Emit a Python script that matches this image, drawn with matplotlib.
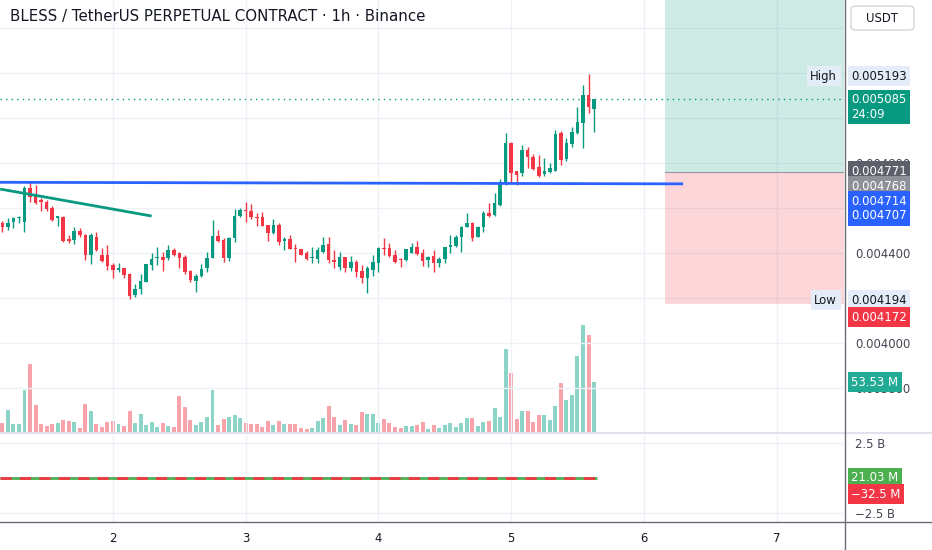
import matplotlib.pyplot as plt
import matplotlib.transforms as mtransforms
from matplotlib.patches import Rectangle, FancyBboxPatch
from matplotlib.lines import Line2D
import numpy as np

plt.rcParams['font.family'] = ['DejaVu Sans']

# hourly candles, first one on day 1 at 04:00 (x axis in hours)
first_hour = 28
open_ = [0.004533, 0.004516, 0.004538, 0.004556, 0.004538, 0.004689, 0.004653, 0.004636, 0.004627, 0.004600,
         0.004556, 0.004560, 0.004462, 0.004458, 0.004498, 0.004480, 0.004391, 0.004471, 0.004391, 0.004391,
         0.004347, 0.004324, 0.004333, 0.004307, 0.004213, 0.004240, 0.004271, 0.004347, 0.004378, 0.004382,
         0.004378, 0.004413, 0.004400, 0.004382, 0.004320, 0.004276, 0.004298, 0.004333, 0.004378, 0.004476,
         0.004458, 0.004378, 0.004467, 0.004564, 0.004591, 0.004587, 0.004560, 0.004560, 0.004524, 0.004489,
         0.004524, 0.004453, 0.004462, 0.004422, 0.004418, 0.004400, 0.004378, 0.004373, 0.004404, 0.004440,
         0.004369, 0.004338, 0.004382, 0.004333, 0.004360, 0.004320, 0.004289, 0.004324, 0.004356, 0.004422,
         0.004422, 0.004391, 0.004373, 0.004369, 0.004400, 0.004427, 0.004400, 0.004369, 0.004387, 0.004356,
         0.004373, 0.004427, 0.004431, 0.004471, 0.004516, 0.004533, 0.004471, 0.004516, 0.004578, 0.004569,
         0.004613, 0.004711, 0.004889, 0.004764, 0.004756, 0.004858, 0.004827, 0.004782, 0.004751, 0.004760,
         0.004764, 0.004933, 0.004818, 0.004884, 0.004933, 0.004978, 0.005102, 0.005040]
high = [0.004542, 0.004556, 0.004560, 0.004564, 0.004698, 0.004716, 0.004702, 0.004644, 0.004636, 0.004609,
        0.004564, 0.004564, 0.004480, 0.004516, 0.004511, 0.004484, 0.004489, 0.004493, 0.004422, 0.004436,
        0.004356, 0.004356, 0.004333, 0.004311, 0.004262, 0.004307, 0.004351, 0.004400, 0.004427, 0.004404,
        0.004436, 0.004422, 0.004404, 0.004391, 0.004324, 0.004307, 0.004351, 0.004404, 0.004547, 0.004502,
        0.004467, 0.004471, 0.004596, 0.004600, 0.004627, 0.004618, 0.004578, 0.004582, 0.004524, 0.004551,
        0.004533, 0.004471, 0.004480, 0.004440, 0.004418, 0.004409, 0.004427, 0.004427, 0.004471, 0.004471,
        0.004413, 0.004404, 0.004382, 0.004387, 0.004369, 0.004347, 0.004342, 0.004391, 0.004427, 0.004467,
        0.004444, 0.004413, 0.004378, 0.004418, 0.004444, 0.004453, 0.004418, 0.004387, 0.004413, 0.004382,
        0.004427, 0.004480, 0.004480, 0.004520, 0.004578, 0.004538, 0.004520, 0.004587, 0.004622, 0.004667,
        0.004729, 0.004933, 0.004893, 0.004764, 0.004880, 0.004871, 0.004840, 0.004836, 0.004822, 0.004800,
        0.004947, 0.004942, 0.004911, 0.004960, 0.005049, 0.005147, 0.005193, 0.005085]
low = [0.004493, 0.004502, 0.004511, 0.004533, 0.004493, 0.004627, 0.004618, 0.004587, 0.004587, 0.004542,
       0.004520, 0.004449, 0.004444, 0.004440, 0.004471, 0.004369, 0.004351, 0.004409, 0.004360, 0.004324,
       0.004289, 0.004316, 0.004289, 0.004194, 0.004204, 0.004218, 0.004271, 0.004324, 0.004347, 0.004320,
       0.004369, 0.004387, 0.004333, 0.004307, 0.004271, 0.004227, 0.004293, 0.004316, 0.004378, 0.004449,
       0.004360, 0.004364, 0.004449, 0.004560, 0.004538, 0.004551, 0.004520, 0.004520, 0.004453, 0.004484,
       0.004436, 0.004413, 0.004418, 0.004360, 0.004391, 0.004369, 0.004356, 0.004356, 0.004400, 0.004356,
       0.004333, 0.004324, 0.004316, 0.004320, 0.004293, 0.004267, 0.004222, 0.004298, 0.004316, 0.004391,
       0.004382, 0.004356, 0.004338, 0.004364, 0.004400, 0.004391, 0.004342, 0.004338, 0.004316, 0.004338,
       0.004356, 0.004400, 0.004427, 0.004404, 0.004516, 0.004453, 0.004471, 0.004493, 0.004560, 0.004564,
       0.004609, 0.004702, 0.004711, 0.004702, 0.004742, 0.004778, 0.004769, 0.004738, 0.004742, 0.004756,
       0.004764, 0.004791, 0.004809, 0.004871, 0.004929, 0.004867, 0.005022, 0.004938]
close = [0.004516, 0.004533, 0.004556, 0.004560, 0.004689, 0.004649, 0.004622, 0.004627, 0.004596, 0.004547,
         0.004564, 0.004453, 0.004453, 0.004498, 0.004480, 0.004391, 0.004480, 0.004413, 0.004364, 0.004342,
         0.004324, 0.004333, 0.004302, 0.004209, 0.004240, 0.004276, 0.004351, 0.004373, 0.004382, 0.004369,
         0.004413, 0.004391, 0.004378, 0.004316, 0.004280, 0.004298, 0.004329, 0.004378, 0.004476, 0.004453,
         0.004378, 0.004467, 0.004564, 0.004591, 0.004587, 0.004560, 0.004556, 0.004520, 0.004489, 0.004524,
         0.004449, 0.004462, 0.004418, 0.004418, 0.004391, 0.004373, 0.004382, 0.004413, 0.004436, 0.004369,
         0.004360, 0.004382, 0.004333, 0.004360, 0.004316, 0.004289, 0.004333, 0.004360, 0.004422, 0.004418,
         0.004387, 0.004360, 0.004369, 0.004418, 0.004427, 0.004396, 0.004364, 0.004382, 0.004356, 0.004373,
         0.004427, 0.004436, 0.004471, 0.004516, 0.004533, 0.004467, 0.004516, 0.004578, 0.004564, 0.004622,
         0.004711, 0.004889, 0.004756, 0.004747, 0.004858, 0.004827, 0.004773, 0.004742, 0.004764, 0.004778,
         0.004929, 0.004813, 0.004889, 0.004938, 0.004982, 0.005102, 0.005049, 0.005085]
# volume in millions
volume = [10.5, 24.5, 9.5, 9.5, 44.8, 72.4, 29.4, 9.5, 7.3, 9.5,
          10.5, 14.0, 12.6, 11.5, 5.2, 30.4, 23.1, 9.5, 6.3, 11.5,
          12.6, 9.5, 7.3, 23.1, 10.5, 19.9, 8.4, 11.5, 6.3, 10.5,
          7.3, 6.3, 38.8, 27.3, 14.0, 8.4, 11.5, 16.8, 44.8, 8.4,
          14.7, 16.8, 18.9, 15.7, 10.5, 9.5, 9.5, 6.3, 12.6, 8.4,
          12.6, 9.5, 9.5, 9.5, 5.2, 4.2, 5.2, 12.6, 15.7, 28.3,
          16.8, 8.4, 13.6, 9.5, 8.4, 22.0, 19.9, 19.9, 10.5, 14.7,
          10.5, 6.3, 5.2, 7.3, 7.3, 8.4, 11.5, 4.2, 8.4, 5.2,
          8.4, 10.5, 6.3, 10.5, 15.7, 15.7, 7.3, 11.5, 12.6, 26.2,
          16.8, 87.8, 63.0, 14.7, 23.1, 23.1, 11.5, 18.9, 18.9, 13.6,
          28.3, 52.5, 34.6, 39.9, 80.5, 114.0, 102.5, 53.53]

# drawings
hline_pts = [(27.0, 0.004714), (151.1, 0.004707)]
trend_pts = [(27.6, 0.004684), (55.0, 0.004564)]
pos_left = 147.8
pos_entry = 0.004760
pos_stop = 0.004172
indicator_last = [21.03e6, -32.5e6]

price_ticks = [0.0038, 0.0040, 0.0042, 0.0044, 0.0046, 0.0048, 0.0050, 0.0052, 0.0054]
price_labels = ['0.003800', '0.004000', '', '0.004400', '', '0.004800', '', '', '']
day_ticks = [48, 72, 96, 120, 144, 168]
day_labels = ['2', '3', '4', '5', '6', '7']

UP, DOWN = '#089981', '#f23645'
VUP, VDOWN = '#8cd3c8', '#f7a3a9'
GRID = '#eef1f6'
TXT = '#131722'

W, H = 932, 550
def rect(x0, y0, x1, y1):
    return [x0 / W, 1 - y1 / H, (x1 - x0) / W, (y1 - y0) / H]

fig = plt.figure(figsize=(W / 100, H / 100), dpi=100)
fig.patch.set_facecolor('white')

ax = fig.add_axes(rect(0, 0, 844, 433))
axv = ax.twinx()
ax.set_zorder(axv.get_zorder() + 1)
ax.patch.set_visible(False)
axv.set_facecolor('white')

hours = first_hour + np.arange(len(close))
o = np.array(open_); c = np.array(close); hi = np.array(high); lo = np.array(low)
up = c >= o
cols = np.where(up, UP, DOWN)

# volume
axv.bar(hours, volume, width=0.72, color=np.where(up, VUP, VDOWN), zorder=2)
axv.set_ylim(0, 455)
axv.set_yticks([])
for s in axv.spines.values():
    s.set_visible(False)

# position tool
ax.add_patch(Rectangle((pos_left, pos_entry), 60, 0.002, facecolor=UP, alpha=0.2, lw=0, zorder=1))
ax.add_patch(Rectangle((pos_left, pos_stop), 60, pos_entry - pos_stop, facecolor=DOWN, alpha=0.2, lw=0, zorder=1))
ax.plot([pos_left, 200], [pos_entry, pos_entry], color='#9598a1', lw=0.8, zorder=1.5)

# candles
ax.vlines(hours, lo, hi, colors=cols, lw=1, zorder=3)
body = np.maximum(np.abs(c - o), 0.0000035)
ax.bar(hours, body, bottom=np.minimum(o, c), width=0.64, color=cols, zorder=4)

# lines
ax.plot(*zip(*hline_pts), color='#2962ff', lw=2, zorder=5, solid_capstyle='butt')
ax.plot(*zip(*trend_pts), color=UP, lw=2, zorder=5, solid_capstyle='butt')
ax.axhline(close[-1], color=UP, lw=1, ls=(0, (1, 3)), zorder=2)

ax.set_xlim(27.57, 180.2)
ax.set_ylim(0.0036, 0.005524)
ax.set_xticks(day_ticks)
ax.set_xticklabels([])
ax.tick_params(axis='x', length=0)
ax.set_yticks(price_ticks)
ax.yaxis.tick_right()
ax.set_yticklabels(price_labels)
ax.tick_params(axis='y', length=0, pad=8, labelsize=8.4, labelcolor='#434651')
ax.grid(True, color=GRID, lw=1)
ax.set_axisbelow(True)
for s in ax.spines.values():
    s.set_visible(False)

# indicator pane
axi = fig.add_axes(rect(0, 433, 844, 522))
axi.hlines(indicator_last[0], hours[0] - 0.5, hours[-1] + 0.5, color='#4caf50', lw=2, zorder=3)
axi.hlines(indicator_last[1], hours[0] - 0.5, hours[-1] + 0.5, color=DOWN, lw=2, ls=(0, (4, 3)), zorder=4)
axi.set_xlim(27.57, 180.2)
axi.set_ylim(-3.143e9, 3.214e9)
axi.set_yticks([2.5e9, -2.5e9])
axi.yaxis.tick_right()
axi.set_yticklabels(['2.5 B', '\u22122.5 B'])
axi.set_xticks(day_ticks)
axi.set_xticklabels(day_labels)
axi.tick_params(axis='both', length=0, labelsize=8.4, labelcolor='#434651')
axi.tick_params(axis='y', pad=8)
axi.tick_params(axis='x', pad=7, labelcolor=TXT)
axi.grid(True, color=GRID, lw=1)
axi.set_axisbelow(True)
for s in axi.spines.values():
    s.set_visible(False)

# frame lines
fig.add_artist(Line2D([0, 1], [1 - 433 / H] * 2, color='#e0e3eb', lw=1.5))
fig.add_artist(Line2D([0, 1], [1 - 522 / H] * 2, color='#6a6d78', lw=1))
fig.add_artist(Line2D([844.5 / W] * 2, [0, 1], color='#6a6d78', lw=1))

# price-scale tags, all attached to the top axes so they cover the tick labels
def tag(yaxes, y, text, fc, tc='white', dy=0, side='right', ls=1.0, host=ax):
    t = mtransforms.blended_transform_factory(host.transAxes, yaxes.transData)
    if side == 'right':
        kw = dict(xytext=(7, dy), ha='left')
    else:
        kw = dict(xytext=(-7, dy), ha='right')
    host.annotate(text, xy=(1, y), xycoords=t, textcoords='offset pixels', va='center',
                  fontsize=8.4, color=tc, annotation_clip=False, linespacing=ls, zorder=10,
                  bbox=dict(boxstyle='square,pad=0.3', fc=fc, ec='none'), **kw)

tag(ax, max(high), 'High', '#e3ecf7', TXT, dy=-2, side='left')
tag(ax, max(high), '0.005193', '#e3ecf7', TXT, dy=-2)
tag(ax, close[-1], '0.005085\n24:09', UP, dy=-8, ls=1.15)
tag(ax, 0.004771, '0.004771', '#5d606b', dy=-2)
tag(ax, 0.004768, '0.004768', '#8d9099', dy=-16)
tag(ax, 0.004714, '0.004714\n0.004707', '#2962ff', dy=-26, ls=1.15)
tag(ax, min(low), 'Low', '#e3ecf7', TXT, dy=-1, side='left')
tag(ax, min(low), '0.004194', '#e3ecf7', TXT, dy=-1)
tag(ax, pos_stop, '0.004172', DOWN, dy=-13)
tag(axv, volume[-1], '53.53 M', '#22ab94', dy=0)
tag(axi, indicator_last[0], '21.03 M', '#4caf50', dy=0, host=axi)
tag(axi, indicator_last[1], '\u221232.5 M', DOWN, dy=-16, host=axi)

fig.text(10 / W, 1 - 16 / H, 'BLESS / TetherUS PERPETUAL CONTRACT \u00b7 1h \u00b7 Binance',
         fontsize=10.8, color=TXT, va='center', ha='left')
fig.add_artist(FancyBboxPatch((851 / W, 1 - 30 / H), 63 / W, 24 / H,
                              boxstyle='round,pad=0,rounding_size=0.006', transform=fig.transFigure,
                              fc='white', ec='#d1d4dc', lw=1))
fig.text(882 / W, 1 - 18 / H, 'USDT', fontsize=8.4, color=TXT, va='center', ha='center')

fig.savefig('out.png', dpi=100)
